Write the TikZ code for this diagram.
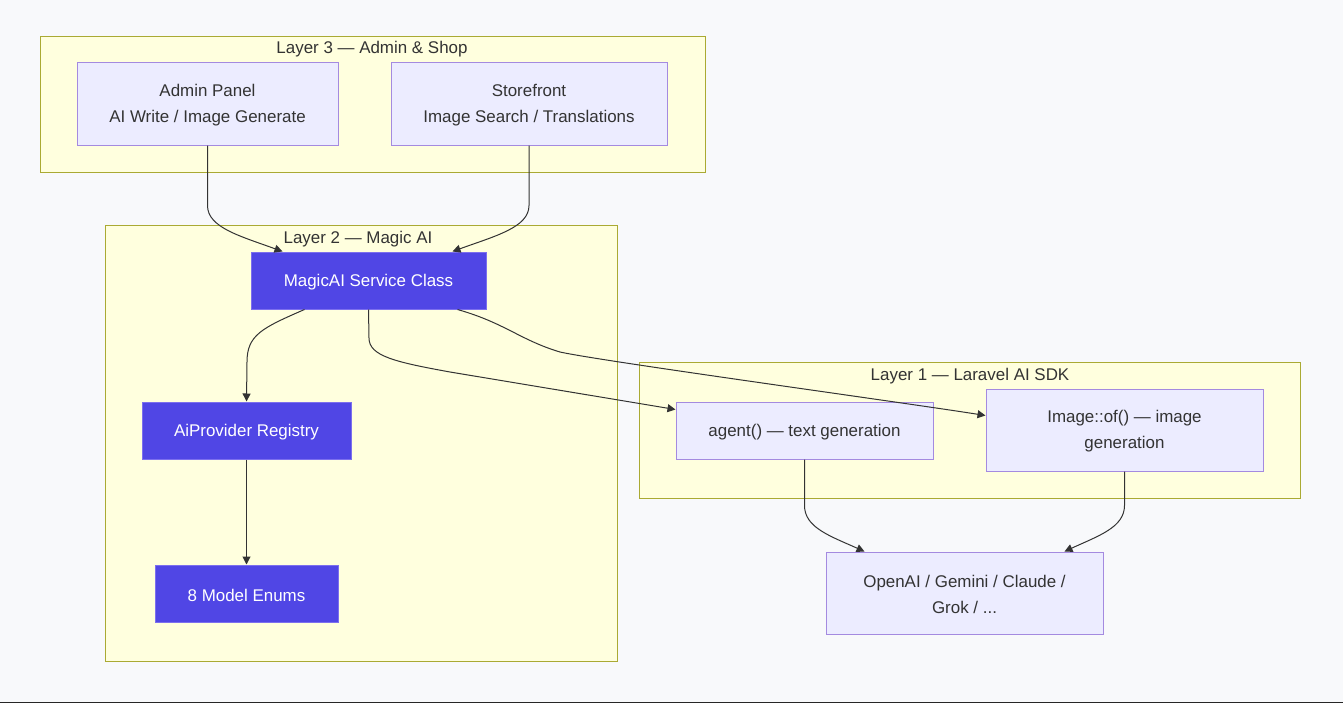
\documentclass[tikz,border=0pt]{standalone}
\usepackage{fontspec}
\setmainfont{Liberation Sans}
\usetikzlibrary{fit,arrows.meta}
\definecolor{bgc}{HTML}{F8F9FB}
\definecolor{clfill}{HTML}{FFFFDE}
\definecolor{cldraw}{HTML}{AAAA33}
\definecolor{lnfill}{HTML}{ECECFF}
\definecolor{lndraw}{HTML}{A48AE0}
\definecolor{dkfill}{HTML}{5046E5}
\definecolor{dkdraw}{HTML}{7C6FEE}
\definecolor{txt}{HTML}{333333}
\tikzset{
  cluster/.style={draw=cldraw, fill=clfill, line width=0.75pt, inner sep=0pt},
  cltitle/.style={text=txt, font=\fontsize{12.7}{14}\selectfont, inner sep=0pt},
  lightbox/.style={draw=lndraw, fill=lnfill, line width=0.75pt, inner sep=0pt},
  darkbox/.style={draw=dkdraw, fill=dkfill, line width=0.75pt, inner sep=0pt},
  lighttext/.style={text=txt, align=center, yshift=-1.2pt, font=\fontsize{12.7}{19.5}\selectfont},
  darktext/.style={text=white, align=center, yshift=-1.2pt, font=\fontsize{12.7}{19.5}\selectfont},
  edge/.style={draw=txt, line width=0.75pt, -{Triangle[length=6pt,width=6pt]}},
}
\begin{document}
\begin{tikzpicture}[x=0.75pt,y=-0.75pt]
\fill[bgc] (0,0) rectangle (1343,703);
\useasboundingbox (0,0) rectangle (1343,703);
\fill[black!85] (0,701.5) rectangle (1343,703);
% clusters
\node[cluster, fit={(40,36) (705,172)}] (l3) {};
\node[cltitle] (l3t) at (372,49) {Layer 3 — Admin \& Shop};
\node[cluster, fit={(105,225) (617,661)}] (l2) {};
\node[cltitle] (l2t) at (358,239) {Layer 2 — Magic AI};
\node[cluster, fit={(639,362) (1300,498)}] (l1) {};
\node[cltitle] (l1t) at (970,376) {Layer 1 — Laravel AI SDK};
% nodes
\node[lightbox, fit={(77,62) (338,145)}] (admin) {};
\node[lighttext] (admint) at (admin.center) {Admin Panel\\AI Write / Image Generate};
\node[lightbox, fit={(391,62) (667,145)}] (store) {};
\node[lighttext] (storet) at (store.center) {Storefront\\Image Search / Translations};
\node[darkbox, fit={(251,252) (486,309)}] (magic) {};
\node[darktext] (magict) at (magic.center) {MagicAI Service Class};
\node[darkbox, fit={(142,402) (351,459)}] (reg) {};
\node[darktext] (regt) at (reg.center) {AiProvider Registry};
\node[darkbox, fit={(155,565) (338,622)}] (enums) {};
\node[darktext] (enumst) at (enums.center) {8 Model Enums};
\node[lightbox, fit={(676,402) (933,459)}] (agent) {};
\node[lighttext] (agentt) at (agent.center) {agent() — text generation};
\node[lightbox, fit={(986,389) (1263,471)}] (image) {};
\node[lighttext] (imaget) at (image.center) {Image::of() — image\\generation};
\node[lightbox, fit={(826,552) (1103,634)}] (prov) {};
\node[lighttext] (provt) at (prov.center) {OpenAI / Gemini / Claude /\\Grok / ...};
% edges
\draw[edge] (admin.south) -- ++(0,60) .. controls ++(0,22) and (240,236) .. ([xshift=32*0.75pt]magic.north west);
\draw[edge] (store.south) -- ++(0,60) .. controls ++(0,22) and (495,236) .. ([xshift=-34*0.75pt]magic.north east);
\draw[edge] ([xshift=54*0.75pt]magic.south west) .. controls (262,328) and (247,335) .. (247,362) -- (reg.north);
\draw[edge] (reg.south) -- (enums.north);
\draw[edge] ([xshift=118*0.75pt]magic.south west) -- (369,338) .. controls (369,356) and (395,362) .. (450,372) -- ([yshift=-8*0.75pt]agent.north west);
\draw[edge] ([xshift=207*0.75pt]magic.south west) .. controls (505,323) and (520,340) .. (560,352) .. controls (600,361) and (900,402) .. ([yshift=-27*0.75pt]image.north west);
\draw[edge] (agent.south) -- ++(0,46) .. controls ++(0,22) and (830,536) .. ([xshift=39*0.75pt]prov.north west);
\draw[edge] (image.south) -- ++(0,34) .. controls ++(0,22) and (1098,536) .. ([xshift=-39*0.75pt]prov.north east);
\end{tikzpicture}
\end{document}
